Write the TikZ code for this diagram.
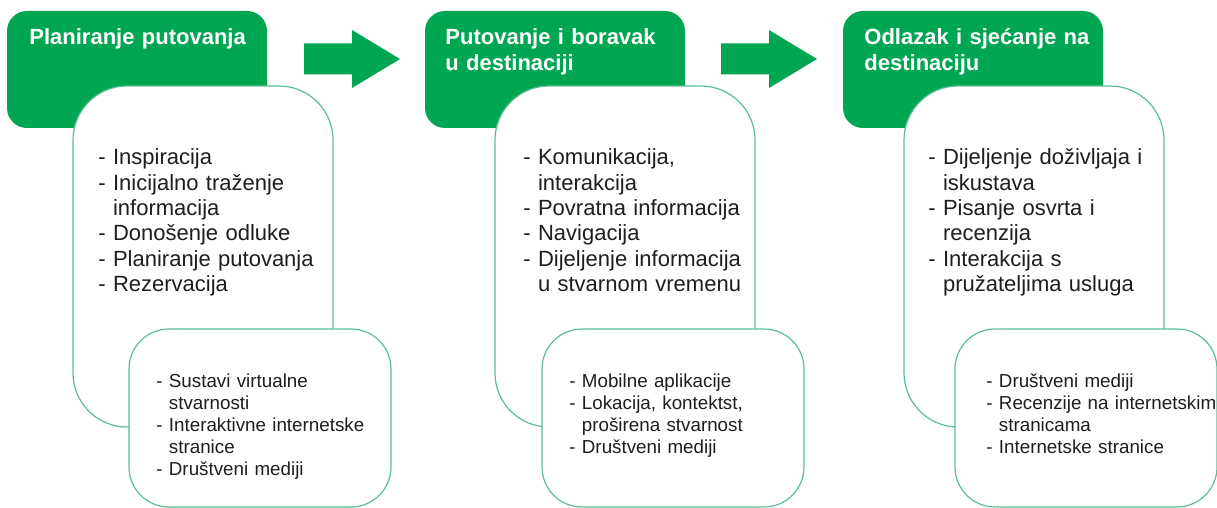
\documentclass[tikz,border=0pt]{standalone}
\usepackage{fontspec}
\setmainfont{Liberation Sans}
\usepackage{tikz}
\definecolor{boxgreen}{RGB}{0,166,81}
\definecolor{edgegreen}{RGB}{92,190,150}
\definecolor{textgray}{RGB}{30,30,30}
\newcommand{\blockarrow}[1]{
    \fill[boxgreen] (#1) ++(0,-15.5) -- ++(48,0) -- ++(0,-13.5) -- ++(48,29) -- ++(-48,29) -- ++(0,-13.5) -- ++(-48,0) -- cycle;
}
\newcommand{\contline}{\hphantom{- }}

\begin{document}
\begin{tikzpicture}[x=0.5pt,y=-0.5pt,
        greenbox/.style={rectangle,rounded corners=10pt,fill=boxgreen,minimum width=130pt,minimum height=58.5pt,inner sep=0pt},
        itembox/.style={rectangle,draw=edgegreen,line width=0.6pt,fill=white,rounded corners=27pt,minimum width=130pt,minimum height=170.5pt,inner sep=0pt},
        mediabox/.style={rectangle,draw=edgegreen,line width=0.6pt,fill=white,rounded corners=20pt,minimum width=131pt,minimum height=89pt,inner sep=0pt},
        title/.style={anchor=base west,inner sep=0pt,text width=125pt,align=left,text=white,font=\fontsize{11}{12.65}\selectfont\bfseries},
        items/.style={anchor=base west,inner sep=0pt,text width=125pt,align=left,text=textgray,font=\fontsize{11}{12.65}\selectfont},
        media/.style={anchor=base west,inner sep=0pt,text width=130pt,align=left,text=textgray,font=\fontsize{9.4}{11}\selectfont}]
    \useasboundingbox (0,0) rectangle (1217,508);
    % planiranje
    \node[greenbox] (plan) at (137,69.5) {};
    \node[title] (plantitle) at (29,45) {Planiranje putovanja};
    \coordinate (arrowa) at (304,59);
    \blockarrow{arrowa}
    \node[itembox] (planitems) at (203,256.5) {};
    \node[items] (planlist) at (98,165) {- Inspiracija\\
        - Inicijalno traženje\\
        \contline informacija\\
        - Donošenje odluke\\
        - Planiranje putovanja\\
        - Rezervacija};
    \node[mediabox] (planmedia) at (260,418) {};
    \node[media] (planmedialist) at (156,387) {- Sustavi virtualne\\
        \contline stvarnosti\\
        - Interaktivne internetske\\
        \contline stranice\\
        - Društveni mediji};
    % putovanje i boravak
    \node[greenbox] (stay) at (555,69.5) {};
    \node[title] (staytitle) at (445,45) {Putovanje i boravak\\u destinaciji};
    \coordinate (arrowb) at (721,59);
    \blockarrow{arrowb}
    \node[itembox] (stayitems) at (625,256.5) {};
    \node[items] (staylist) at (523,165) {- Komunikacija,\\
        \contline interakcija\\
        - Povratna informacija\\
        - Navigacija\\
        - Dijeljenje informacija\\
        \contline u stvarnom vremenu};
    \node[mediabox] (staymedia) at (673,418) {};
    \node[media] (staymedialist) at (569,387) {- Mobilne aplikacije\\
        - Lokacija, kontektst,\\
        \contline proširena stvarnost\\
        - Društveni mediji};
    % odlazak
    \node[greenbox] (after) at (973,69.5) {};
    \node[title] (aftertitle) at (864,45) {Odlazak i sjećanje na\\destinaciju};
    \node[itembox] (afteritems) at (1034,256.5) {};
    \node[items] (afterlist) at (928,165) {- Dijeljenje doživljaja i\\
        \contline iskustava\\
        - Pisanje osvrta i\\
        \contline recenzija\\
        - Interakcija s\\
        \contline pružateljima usluga};
    \node[mediabox] (aftermedia) at (1086,418) {};
    \node[media] (aftermedialist) at (986,387) {- Društveni mediji\\
        - Recenzije na internetskim\\
        \contline stranicama\\
        - Internetske stranice};
\end{tikzpicture}
\end{document}
